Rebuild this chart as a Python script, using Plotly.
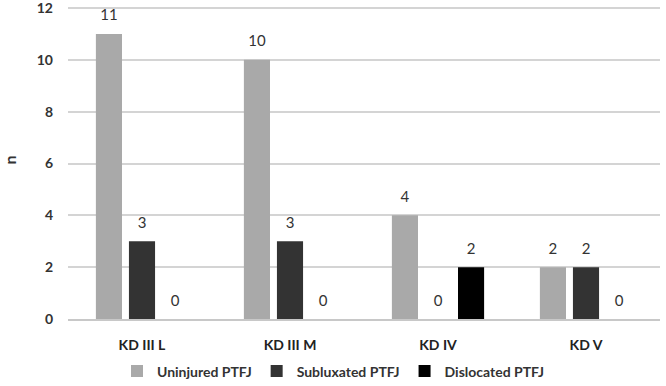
import plotly.graph_objects as go

categories = ["KD III L", "KD III M", "KD IV", "KD V"]
uninjured = [11, 10, 4, 2]
subluxated = [3, 3, 0, 2]
dislocated = [0, 0, 2, 0]
series_names = ["Uninjured PTFJ", "Subluxated PTFJ", "Dislocated PTFJ"]
colors = ["#a9a9a9", "#333333", "#000000"]
y_max, y_step = 12, 2

FONT = "Lato, Open Sans, sans-serif"
series = [uninjured, subluxated, dislocated]

fig = go.Figure()
for i, (name, vals, col) in enumerate(zip(series_names, series, colors)):
    fig.add_trace(go.Bar(
        x=categories, y=vals, name="<b>" + name + "</b>",
        marker=dict(color=col, line=dict(width=0)),
        offsetgroup=str(i), hoverinfo="skip",
    ))
for i, vals in enumerate(series):
    fig.add_trace(go.Scatter(
        x=categories, y=vals, mode="markers+text", text=[str(v) for v in vals],
        textposition="top center", marker=dict(size=14, opacity=0),
        textfont=dict(family=FONT, size=15, color="#333333"),
        offsetgroup=str(i), showlegend=False, hoverinfo="skip", cliponaxis=False,
    ))

fig.update_layout(
    width=666, height=386,
    margin=dict(l=68, r=6, t=1, b=67, autoexpand=False),
    paper_bgcolor="white", plot_bgcolor="white",
    barmode="group", bargap=0.33, bargroupgap=0.21,
    scattermode="group", scattergap=0.33,
    font=dict(family=FONT, color="#333333"),
    legend=dict(orientation="h", xref="container", x=0.5, xanchor="center",
                y=-0.165, yanchor="middle",
                font=dict(size=14, color="#333333", family=FONT),
                itemwidth=30, traceorder="normal"),
)
fig.update_yaxes(
    range=[0, 12.27], tickmode="linear", tick0=0, dtick=y_step,
    showgrid=True, gridcolor="#d4d4d4", gridwidth=1.5, ticklabeloverflow="allow",
    zeroline=False, showline=False, ticks="", ticklabelstandoff=14,
    tickfont=dict(size=14, color="#333333", weight="bold"),
    title=dict(text="n", font=dict(size=16, color="#333333", weight="bold"), standoff=22),
)
fig.update_xaxes(
    showline=True, linecolor="#c8c8c8", linewidth=2, ticks="",
    tickfont=dict(size=14, color="#222222", weight="bold"), ticklabelstandoff=12,
)
fig.write_html("out.html")
